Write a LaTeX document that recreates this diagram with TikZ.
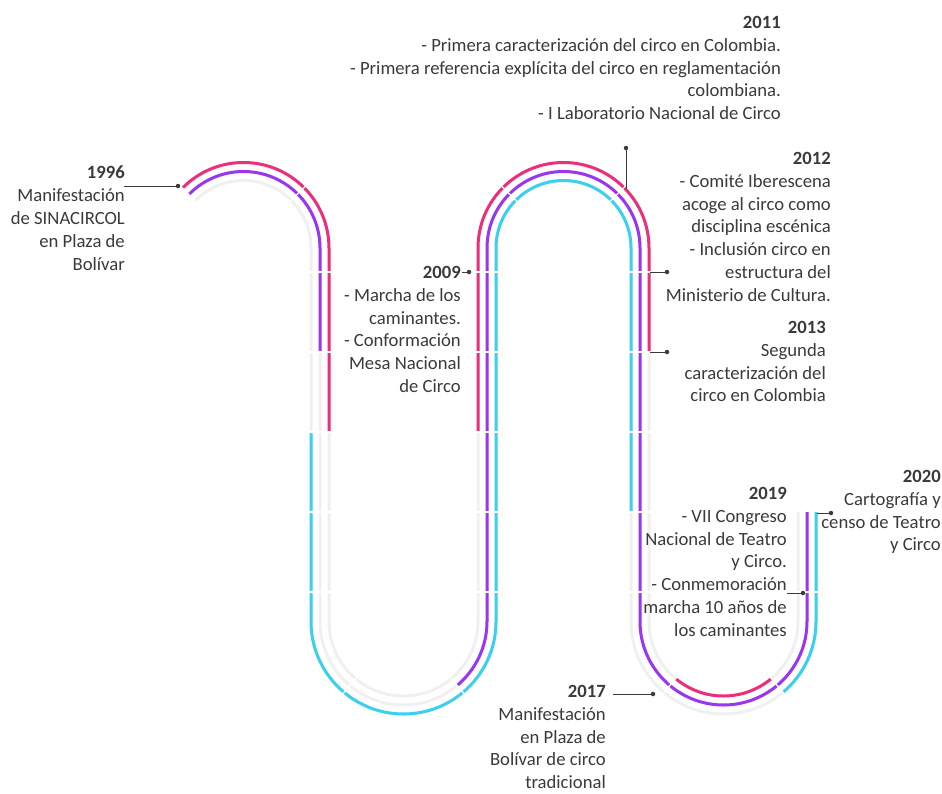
\documentclass[tikz,border=0pt]{standalone}
\usepackage{fontspec}
\setmainfont{Carlito}
\usepackage[HTML]{xcolor}
\usepackage{tikz}
\definecolor{rosa}{HTML}{EC2F7B}
\definecolor{morado}{HTML}{9A35F2}
\definecolor{celeste}{HTML}{3BCFF0}
\definecolor{carrilgris}{HTML}{F0F0F0}
\definecolor{texto}{HTML}{3A3A3A}

\begin{document}
\begin{tikzpicture}[x=1pt,y=-1pt,
  carril/.style={line width=3pt,draw=carrilgris},
  tramo/.style={line width=3pt},
  corte/.style={white,line width=1.3pt},
  punto/.style={circle,fill=texto,inner sep=0pt,minimum size=4.5pt},
  guia/.style={draw=texto,line width=1pt},
  hito/.style={anchor=north east,inner sep=0pt,align=right,text=texto,font=\fontsize{18.67}{22.8}\selectfont}]
\useasboundingbox (0,0) rectangle (942,793);

% carriles de fondo
\foreach \d in {9,0,-9}
  \draw[carril] (243.5,248) ++(225:76.5+\d) arc[start angle=225,end angle=360,radius=76.5+\d]
    -- (320+\d,621.5) arc[start angle=180,end angle=0,radius=83.5-\d]
    -- (487-\d,248) arc[start angle=180,end angle=360,radius=76.5+\d]
    -- (640+\d,621.5) arc[start angle=180,end angle=0,radius=83.5-\d]
    -- (807-\d,512);

% tramos de color
\draw[tramo,rosa] (243.5,248) ++(225:85.5) arc[start angle=225,end angle=360,radius=85.5] -- (329,432);
\draw[tramo,rosa] (478,432) -- (478,248) arc[start angle=180,end angle=360,radius=85.5] -- (649,352);
\draw[tramo,rosa] (723.5,621.5) ++(130:74.5) arc[start angle=130,end angle=50,radius=74.5];
\draw[tramo,morado] (243.5,248) ++(225:76.5) arc[start angle=225,end angle=360,radius=76.5] -- (320,352);
\draw[tramo,morado] (403.5,621.5) ++(50:83.5) arc[start angle=50,end angle=0,radius=83.5] -- (487,248)
  arc[start angle=180,end angle=360,radius=76.5] -- (640,621.5) arc[start angle=180,end angle=0,radius=83.5] -- (807,512);
\draw[tramo,celeste] (311,432) -- (311,621.5) arc[start angle=180,end angle=0,radius=92.5] -- (496,248)
  arc[start angle=180,end angle=360,radius=67.5] -- (631,512);
\draw[tramo,celeste] (723.5,621.5) ++(50:92.5) arc[start angle=50,end angle=0,radius=92.5] -- (816,512);

% cortes entre tramos
\foreach \x in {320,487,640}
  \foreach \y in {272,352,432,512,592}
    \draw[corte] (\x-14,\y) -- (\x+14,\y);
\draw[corte] (793,592) -- (821,592);
\foreach \c/\a in {243.5/315,563.5/225,563.5/315}
  \draw[corte] (\c,248) ++(\a:62) -- ++(\a:28);
\foreach \c/\a in {403.5/50,403.5/130,723.5/50,723.5/130}
  \draw[corte] (\c,621.5) ++(\a:69) -- ++(\a:28);

% textos
\node[hito] (t1996) at (125,166) {\textbf{1996}\\Manifestación\\de SINACIRCOL\\en Plaza de\\Bolívar};
\node[hito] (t2009) at (461,266) {\textbf{2009}\\- Marcha de los\\caminantes.\\- Conformación\\Mesa Nacional\\de Circo};
\node[hito] (t2011) at (781,16) {\textbf{2011}\\- Primera caracterización del circo en Colombia.\\- Primera referencia explícita del circo en reglamentación\\colombiana.\\- I Laboratorio Nacional de Circo};
\node[hito] (t2012) at (831,152) {\textbf{2012}\\- Comité Iberescena\\acoge al circo como\\disciplina escénica\\- Inclusión circo en\\estructura del\\Ministerio de Cultura.};
\node[hito] (t2013) at (826,321) {\textbf{2013}\\Segunda\\caracterización del\\circo en Colombia};
\node[hito] (t2017) at (606,685) {\textbf{2017}\\Manifestación\\en Plaza de\\Bolívar de circo\\tradicional};
\node[hito] (t2019) at (787,487) {\textbf{2019}\\- VII Congreso\\Nacional de Teatro\\y Circo.\\- Conmemoración\\marcha 10 años de\\los caminantes};
\node[hito] (t2020) at (941,470) {\textbf{2020}\\Cartografía y\\censo de Teatro\\y Circo};

% marcas
\node[punto] (d1996) at (178,186) {};
\coordinate (c1996) at (124,186);
\draw[guia] (c1996) -- (d1996);
\node[punto] (d2009) at (469,272) {};
\coordinate (c2009) at (462,272);
\draw[guia] (c2009) -- (d2009);
\node[punto] (d2011) at (626,148) {};
\coordinate (c2011) at (626,189);
\draw[guia] (d2011) -- (c2011);
\node[punto] (d2012) at (667,272) {};
\coordinate (c2012) at (650,272);
\draw[guia] (c2012) -- (d2012);
\node[punto] (d2013) at (667,352) {};
\coordinate (c2013) at (650,352);
\draw[guia] (c2013) -- (d2013);
\node[punto] (d2017) at (653,694) {};
\coordinate (c2017) at (613,694);
\draw[guia] (c2017) -- (d2017);
\node[punto] (d2019) at (803,593) {};
\coordinate (c2019) at (787,593);
\draw[guia] (c2019) -- (d2019);
\node[punto] (d2020) at (831,513) {};
\coordinate (c2020) at (817,513);
\draw[guia] (c2020) -- (d2020);
\end{tikzpicture}
\end{document}
